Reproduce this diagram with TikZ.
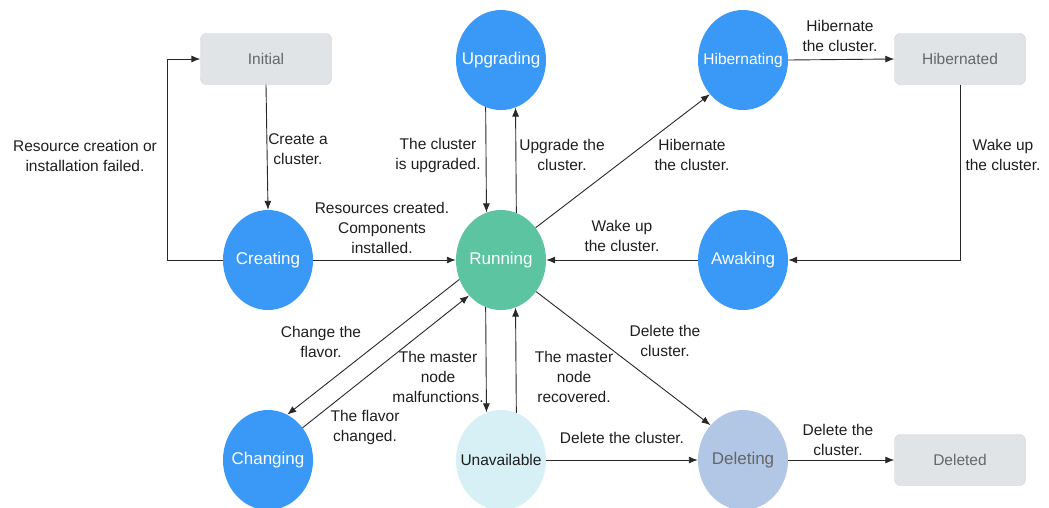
\documentclass[tikz,border=0pt]{standalone}
\usepackage{fontspec}
\setmainfont{Liberation Sans}
\usetikzlibrary{shapes.geometric,arrows.meta,calc}

\definecolor{stateblue}{RGB}{58,152,246}
\definecolor{stategreen}{RGB}{92,196,160}
\definecolor{statecyan}{RGB}{214,240,246}
\definecolor{stateslate}{RGB}{178,198,230}
\definecolor{boxgray}{RGB}{225,228,230}
\definecolor{boxtext}{RGB}{102,102,102}
\definecolor{linecol}{RGB}{40,40,40}
\definecolor{labeltext}{RGB}{30,30,30}

% state text is boxed with zero width so the ellipse keeps its fixed size
\newcommand{\statetext}[1]{\makebox[0pt][c]{#1}}

\tikzset{
  state/.style={ellipse, minimum width=90pt, minimum height=100pt, inner sep=0pt,
    text=white, font=\fontsize{17}{20}\selectfont},
  endbox/.style={rectangle, rounded corners=6pt, fill=boxgray, draw=boxgray!80!gray,
    line width=0.4pt, minimum width=131pt, minimum height=51pt, inner sep=0pt,
    text=boxtext, font=\fontsize{15.5}{18}\selectfont},
  arr/.style={draw=linecol, line width=0.9pt, -{Latex[length=9pt,width=7pt]}},
  lbl/.style={align=center, text=labeltext, inner sep=0pt,
    font=\fontsize{15.5}{20}\selectfont}
}

\begin{document}
\begin{tikzpicture}[x=1pt,y=-1pt]
\useasboundingbox (0,0) rectangle (1049,507);

% states
\node[endbox] (initial) at (266,59) {Initial};
\node[endbox] (hibernated) at (960,59) {Hibernated};
\node[endbox] (deleted) at (960,460) {Deleted};

\node[state, fill=stateblue] (upgrading) at (501,60) {\statetext{Upgrading}};
\node[state, fill=stateblue, font=\fontsize{15.5}{18}\selectfont] (hibernating) at (743,60) {\statetext{Hibernating}};
\node[state, fill=stateblue] (creating) at (268,260) {\statetext{Creating}};
\node[state, fill=stategreen] (running) at (501,260) {\statetext{Running}};
\node[state, fill=stateblue] (awaking) at (743,260) {\statetext{Awaking}};
\node[state, fill=stateblue] (changing) at (268,460) {\statetext{Changing}};
\node[state, fill=statecyan, text=labeltext, font=\fontsize{15.5}{18}\selectfont] (unavailable) at (501,460) {\statetext{Unavailable}};
\node[state, fill=stateslate, text=boxtext] (deleting) at (743,460) {\statetext{Deleting}};

% transitions
\draw[arr] (creating.west) -- ++(-55,0) |- (initial.west);
\draw[arr] (initial.south) -- (creating.north);
\draw[arr] (creating.east) -- (running.west);
\draw[arr] (upgrading.252.3) -- (running.107.7);
\draw[arr] (running.72.3) -- (upgrading.287.7);
\draw[arr] (running.43) -- (hibernating.226);
\draw[arr] (hibernating.east) -- (hibernated.west);
\draw[arr] (hibernated.south) |- (awaking.east);
\draw[arr] (awaking.west) -- (running.east);
\draw[arr] (running.205) -- (changing.67);
\draw[arr] (changing.43) -- (running.228);
\draw[arr] (running.252.3) -- (unavailable.107.7);
\draw[arr] (unavailable.72.3) -- (running.287.7);
\draw[arr] (running.318) -- (deleting.133);
\draw[arr] (unavailable.east) -- (deleting.west);
\draw[arr] (deleting.east) -- (deleted.west);

% transition labels
\node[lbl] (lfail) at (85,156) {Resource creation or\\installation failed.};
\node[lbl] (lcreate) at (298,149) {Create a\\cluster.};
\node[lbl] (lcreated) at (382,228) {Resources created.\\Components\\installed.};
\node[lbl] (lupgraded) at (438,155) {The cluster\\is upgraded.};
\node[lbl] (lupgrade) at (562,155) {Upgrade the\\cluster.};
\node[lbl] (lhib1) at (692,155) {Hibernate\\the cluster.};
\node[lbl] (lhib2) at (840,36) {Hibernate\\the cluster.};
\node[lbl] (lwake1) at (1003,155) {Wake up\\the cluster.};
\node[lbl] (lwake2) at (622,236) {Wake up\\the cluster.};
\node[lbl] (lchange) at (321,342) {Change the\\flavor.};
\node[lbl] (lchanged) at (365,427) {The flavor\\changed.};
\node[lbl] (lfault) at (438,377) {The master\\node\\malfunctions.};
\node[lbl] (lrecover) at (574,377) {The master\\node\\recovered.};
\node[lbl] (ldel1) at (665,341) {Delete the\\cluster.};
\node[lbl] (ldel2) at (622,438) {Delete the cluster.};
\node[lbl] (ldel3) at (838,440) {Delete the\\cluster.};
\end{tikzpicture}
\end{document}
